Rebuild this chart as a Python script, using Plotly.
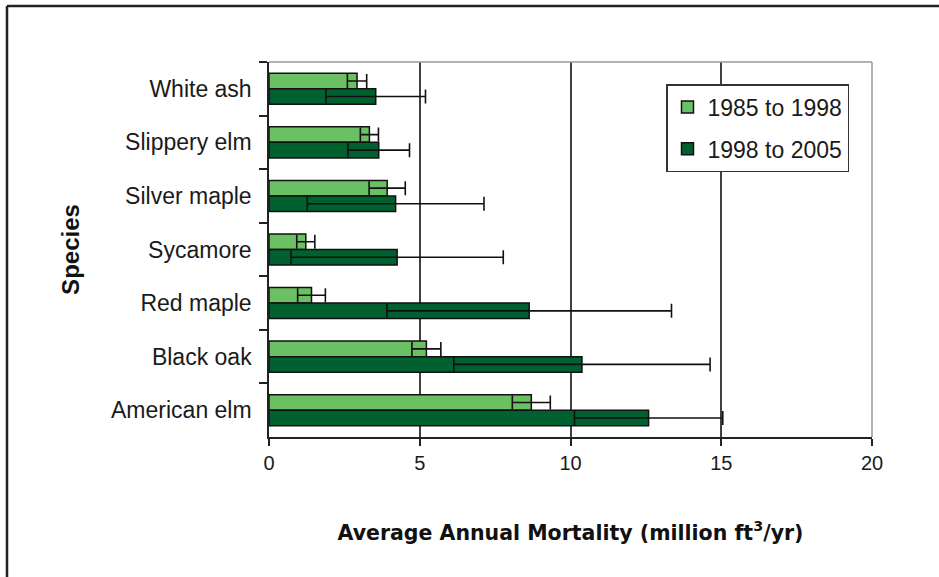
import plotly.graph_objects as go

species = ["White ash", "Slippery elm", "Silver maple", "Sycamore",
           "Red maple", "Black oak", "American elm"]
mort_1985_1998 = [2.92, 3.33, 3.92, 1.22, 1.41, 5.22, 8.70]
err_1985_1998 = [0.32, 0.30, 0.60, 0.30, 0.46, 0.48, 0.63]
mort_1998_2005 = [3.54, 3.64, 4.20, 4.25, 8.63, 10.38, 12.59]
err_1998_2005 = [1.65, 1.02, 2.93, 3.52, 4.72, 4.25, 2.46]
series_names = ["1985 to 1998", "1998 to 2005"]
x_ticks = [0, 5, 10, 15, 20]

L, R, T, B = 269, 872, 62, 437
W, H = 939, 577

def px_x(p):
    return (p - L) / (R - L)

def px_y(p):
    return (B - p) / (B - T)

fig = go.Figure()
fig.add_trace(go.Bar(
    y=species, x=mort_1985_1998, orientation="h", name=series_names[0],
    legendgroup="a",
    marker=dict(color="#6cc064", line=dict(color="#111111", width=1.5)),
    error_x=dict(type="data", array=err_1985_1998, color="#111111",
                 thickness=1.6, width=7),
))
fig.add_trace(go.Bar(
    y=species, x=mort_1998_2005, orientation="h", name=series_names[1],
    legendgroup="b",
    marker=dict(color="#006030", line=dict(color="#111111", width=1.5)),
    error_x=dict(type="data", array=err_1998_2005, color="#111111",
                 thickness=1.6, width=7),
))

fig.update_layout(
    width=W, height=H,
    margin=dict(l=L, r=W - R, t=T, b=H - B),
    paper_bgcolor="white", plot_bgcolor="white",
    barmode="group", bargap=0.42, bargroupgap=0,
    font=dict(family="Liberation Sans, Arial", color="#1a1a1a"),
    showlegend=True,
    legend=dict(
        x=px_x(666), y=px_y(84), xanchor="left", yanchor="top",
        bgcolor="white", bordercolor="#333333", borderwidth=1.5,
        font=dict(size=23, family="Liberation Sans, Arial", color="#1a1a1a"),
        tracegroupgap=9,
    ),
    xaxis=dict(
        range=[0, 20], tickvals=x_ticks, ticktext=[str(v) for v in x_ticks],
        showgrid=True, gridcolor="#404040", gridwidth=1.5,
        showline=True, linecolor="#222222", linewidth=1.5,
        ticks="outside", ticklen=7, tickcolor="#222222", tickwidth=1.5,
        tickfont=dict(size=20), zeroline=False,
        title=dict(text="Average Annual Mortality (million ft<sup>3</sup>/yr)",
                   font=dict(family="DejaVu Sans", size=20.5, color="#111111",
                             weight="bold"),
                   standoff=53),
    ),
    yaxis=dict(
        autorange="reversed",
        showline=True, linecolor="#222222", linewidth=1.5,
        ticks="outside", ticklen=8, tickcolor="#222222", tickwidth=1.5,
        tickson="boundaries", showgrid=False, ticklabelstandoff=11,
        tickfont=dict(size=23),
        title=dict(text="Species",
                   font=dict(family="Liberation Sans, Arial", size=24,
                             color="#111111", weight="bold"),
                   standoff=25),
    ),
    shapes=[
        dict(type="line", xref="paper", yref="paper", x0=0, x1=1, y0=1, y1=1,
             line=dict(color="#9a9a9a", width=1.5), layer="above"),
        dict(type="line", xref="paper", yref="paper", x0=1, x1=1, y0=0, y1=1,
             line=dict(color="#9a9a9a", width=1.5), layer="above"),
        dict(type="line", xref="paper", yref="paper",
             x0=px_x(7), x1=px_x(7), y0=px_y(6), y1=px_y(600),
             line=dict(color="#222222", width=2.5), layer="above"),
        dict(type="line", xref="paper", yref="paper",
             x0=px_x(7), x1=px_x(960), y0=px_y(6), y1=px_y(6),
             line=dict(color="#222222", width=2.5), layer="above"),
    ],
)

fig.write_html("out.html", config={"displayModeBar": False},
               post_script="document.body.style.margin='0';")
